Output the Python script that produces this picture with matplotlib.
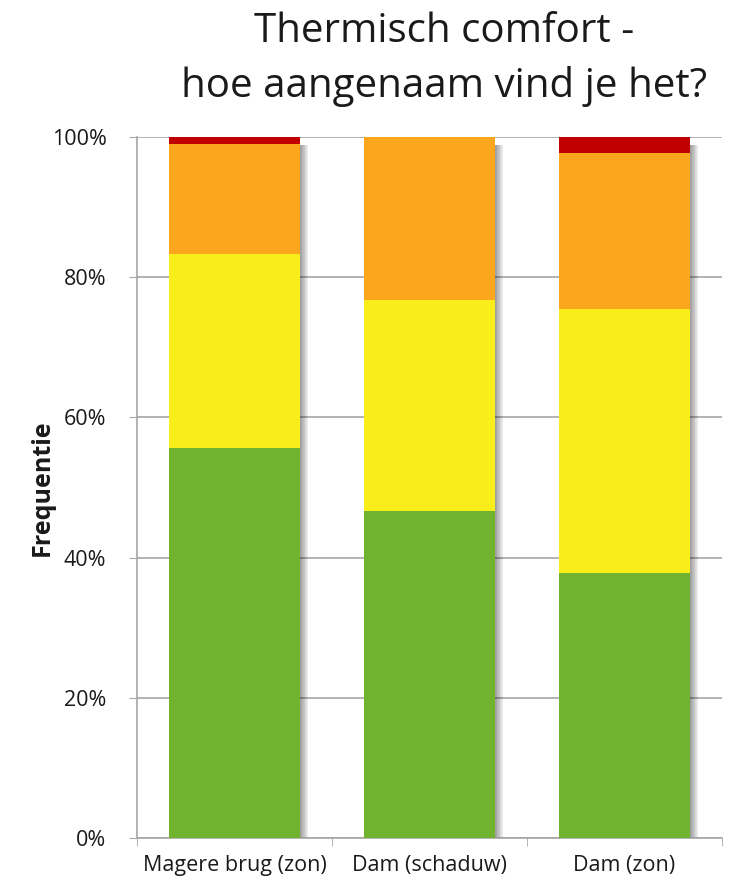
import numpy as np
import matplotlib.pyplot as plt
from matplotlib.patches import Rectangle

plt.rcParams['font.family'] = ['Open Sans', 'DejaVu Sans']

locations = ['Magere brug (zon)', 'Dam (schaduw)', 'Dam (zon)']
# share of answers per category (percent), from pleasant to unpleasant
green = [55.6, 46.7, 37.8]
yellow = [27.7, 30.0, 37.7]
orange = [15.7, 23.3, 22.2]
red = [1.0, 0.0, 2.3]
colors = ['#6fb32f', '#faee1a', '#fba61c', '#c00000']

fig = plt.figure(figsize=(7.31, 8.85), dpi=100)
ax = fig.add_axes([0.1874, 0.0531, 0.8003, 0.7921])

x = np.arange(len(locations))
width = 0.667
bottom = np.zeros(len(locations))
for vals, c in zip([green, yellow, orange, red], colors):
    vals = np.array(vals)
    ax.bar(x, vals, width, bottom=bottom, color=c, zorder=3, linewidth=0)
    bottom += vals

# soft shadow on the right side of each bar
n = 12
for xi, top in zip(x, bottom):
    for i in range(n):
        d = 0.045 * (i + 1) / n
        ax.add_patch(Rectangle((xi + width / 2, 0), d, top - 1.2,
                               color='black', alpha=0.04, lw=0, zorder=2))

ax.set_xlim(-0.5, len(locations) - 0.5)
ax.set_ylim(0, 100)
ax.set_yticks(np.arange(0, 101, 20))
ax.set_yticklabels([f'{v}%' for v in range(0, 101, 20)], fontsize=15.5, color='#1a1a1a')
ax.yaxis.grid(True, color='#a6a6a6', lw=1.2, zorder=0)
ax.set_axisbelow(True)

ax.set_xticks(x)
ax.set_xticklabels(locations, fontsize=15.5, color='#1a1a1a')
ax.set_xticks(np.arange(-0.5, len(locations), 1), minor=True)
ax.tick_params(axis='x', which='major', length=0, pad=12)
ax.tick_params(axis='x', which='minor', length=6, color='#a6a6a6')
ax.tick_params(axis='y', length=6, color='#a6a6a6', pad=16)

for s in ['top', 'right']:
    ax.spines[s].set_visible(False)
for s in ['left', 'bottom']:
    ax.spines[s].set_color('#a6a6a6')
    ax.spines[s].set_linewidth(1.2)

ax.set_ylabel('Frequentie', fontsize=18, fontweight='bold', labelpad=-2, color='#1a1a1a')
fig.text(0.608, 0.987, 'Thermisch comfort -\nhoe aangenaam vind je het?',
         ha='center', va='top', fontsize=29, color='#1a1a1a', linespacing=1.45)

fig.savefig('out.png', dpi=100)
